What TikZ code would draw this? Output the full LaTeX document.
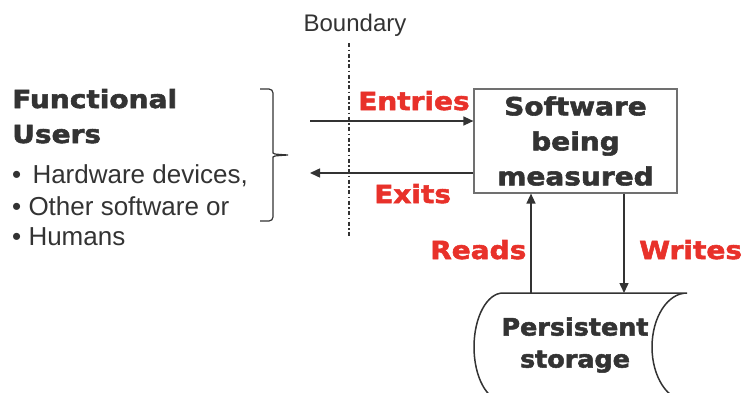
\documentclass[tikz,border=0pt]{standalone}
\usepackage{fontspec}
\setmainfont{Liberation Sans}
\newfontfamily\heavyfont[FakeStretch=1.12,FakeBold=2.2]{DejaVu Sans}
\newfontfamily\heavyfontb[FakeStretch=1.06,FakeBold=2.2]{DejaVu Sans}
\usepackage{tikz}
\usetikzlibrary{calc}
\usetikzlibrary{arrows.meta,positioning}
\definecolor{ink}{HTML}{333333}
\definecolor{flow}{HTML}{E8312A}
\definecolor{frame}{HTML}{707070}

\begin{document}
\begin{tikzpicture}[x=1pt,y=1pt,
    every node/.style={inner sep=0pt,text=ink},
    heavy/.style={font=\heavyfont\bfseries\fontsize{25}{35}\selectfont},
    plain/.style={font=\fontsize{26}{31}\selectfont,anchor=base west},
    flowlabel/.style={heavy,text=flow,anchor=base west},
    arr/.style={draw=ink,line width=1.5pt,-{Triangle[length=10pt,width=9pt]}}]
        \useasboundingbox (0,0) rectangle (744,392);
        % functional users
        \node[heavy,anchor=base west] (fu) at (12,284) {Functional};
        \node[heavy,anchor=base west] (us) at (12,249) {Users};
        \node[plain] (hw) at (12,209) {\textbullet\hspace{4pt} Hardware devices,};
        \node[plain] (os) at (12,177) {\textbullet\ Other software or};
        \node[plain] (hu) at (12,147) {\textbullet\ Humans};
        \draw[ink,line width=1.2pt,rounded corners=4pt]
        (260,303) -- (273,303) -- (273,243) .. controls (273,238) .. (288,237)
        (260,171) -- (273,171) -- (273,231) .. controls (273,236) .. (288,237);
        % boundary
        \node[font=\fontsize{24}{28}\selectfont,anchor=base] (bd) at (355,360) {Boundary};
        \coordinate (btop) at (349,349);
        \coordinate (bbot) at (349,155);
        \draw[ink,line width=1.5pt,dash pattern=on 4pt off 2.5pt on 1.5pt off 2.5pt] (btop) -- (bbot);
        % software
        \node[heavy,draw=frame,line width=1.2pt,minimum width=203pt,minimum height=104pt,align=center]
          (sw) at (575.5,251) {Software\\being\\measured};
        % storage
        \draw[draw=ink,line width=1.5pt] (503,99) -- (687,99)
          arc[start angle=90,end angle=270,x radius=35,y radius=54] -- (503,-9)
          arc[start angle=270,end angle=90,x radius=29,y radius=54] -- cycle;
        \node[font=\heavyfontb\bfseries\fontsize{24}{32}\selectfont,align=center] (ps) at (575,47) {Persistent\\storage};
        \coordinate (rd) at (531,99);
        \coordinate (wr) at (624,99);
        \coordinate (us-in) at (310,271);
        \coordinate (us-out) at (310,219);
        % flows
        \draw[arr] (us-in) -- (sw.west |- us-in);
        \draw[arr] (sw.west |- us-out) -- (us-out);
        \draw[arr] (rd) -- (rd |- sw.south);
        \draw[arr] (wr |- sw.south) -- (wr);
        \node[flowlabel] (en) at (358,282) {Entries};
        \node[flowlabel] (ex) at (374,189) {Exits};
        \node[flowlabel] (re) at (430,133) {Reads};
        \node[flowlabel] (wt) at (639,133) {Writes};
      \end{tikzpicture}
\end{document}
